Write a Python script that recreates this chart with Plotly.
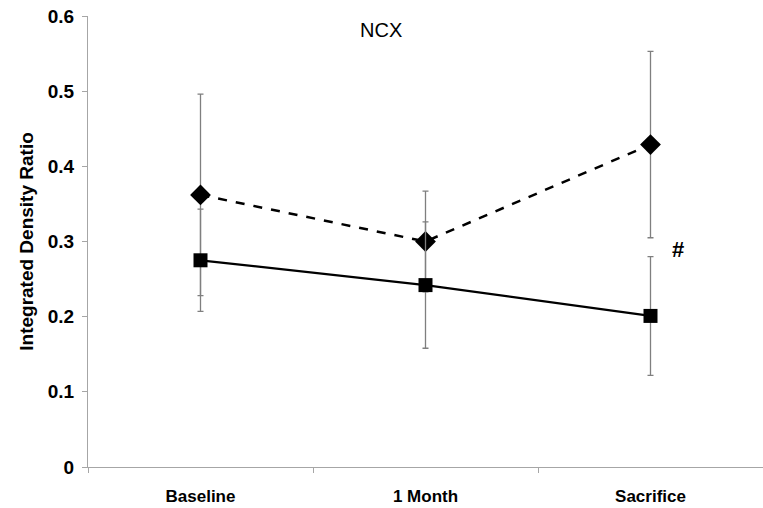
import plotly.graph_objects as go

categories = ["Baseline", "1 Month", "Sacrifice"]
dashed_values = [0.362, 0.300, 0.429]
dashed_errors = [0.134, 0.067, 0.124]
solid_values = [0.275, 0.242, 0.201]
solid_errors = [0.068, 0.084, 0.079]
y_ticks = [0, 0.1, 0.2, 0.3, 0.4, 0.5, 0.6]
y_tick_labels = ["0", "0.1", "0.2", "0.3", "0.4", "0.5", "0.6"]

fig = go.Figure()
fig.add_trace(go.Scatter(
    x=categories, y=dashed_values, mode="lines+markers",
    line=dict(color="black", width=2.5, dash="dash"),
    marker=dict(symbol="diamond", size=16, color="black"),
    error_y=dict(type="data", array=dashed_errors, color="#7f7f7f", thickness=1.3, width=3),
    showlegend=False,
))
fig.add_trace(go.Scatter(
    x=categories, y=solid_values, mode="lines+markers",
    line=dict(color="black", width=2.2),
    marker=dict(symbol="square", size=14, color="black"),
    error_y=dict(type="data", array=solid_errors, color="#7f7f7f", thickness=1.3, width=3),
    showlegend=False,
))

fig.add_annotation(x=2, y=0.289, text="<b>#</b>", showarrow=False, xshift=27,
                   font=dict(family="Liberation Sans, Arial", size=22, color="black"))
fig.add_annotation(x=0.5, y=0.968, xref="paper", yref="paper", text="NCX", showarrow=False,
                   xanchor="center", yanchor="middle", xshift=-45,
                   font=dict(family="Liberation Sans, Arial", size=20, color="black"))

fig.update_layout(
    width=763, height=508,
    margin=dict(l=88, r=0, t=16, b=41),
    paper_bgcolor="white", plot_bgcolor="white",
    font=dict(family="Liberation Sans, Arial", color="black"),
)
fig.update_xaxes(
    type="category", range=[-0.5, 2.5], showgrid=False, zeroline=False,
    showline=True, linecolor="#a6a6a6", linewidth=1.3,
    ticks="outside", tickson="boundaries", ticklen=5, tickcolor="#a6a6a6",
    tickfont=dict(family="Liberation Sans, Arial", size=17, color="black"),
    ticklabelstandoff=13,
    tickvals=categories, ticktext=["<b>%s</b>" % c for c in categories],
)
fig.update_yaxes(
    range=[0, 0.6], showgrid=False, zeroline=False,
    showline=True, linecolor="#a6a6a6", linewidth=1.3,
    ticks="outside", ticklen=5, tickcolor="#a6a6a6",
    tickvals=y_ticks, ticktext=["<b>%s</b>" % t for t in y_tick_labels],
    tickfont=dict(family="Liberation Sans, Arial", size=19, color="black"),
    ticklabelstandoff=4,
    title=dict(text="<b>Integrated Density Ratio</b>", standoff=8,
               font=dict(family="Liberation Sans, Arial", size=19, color="black")),
)

fig.write_html("out.html")
